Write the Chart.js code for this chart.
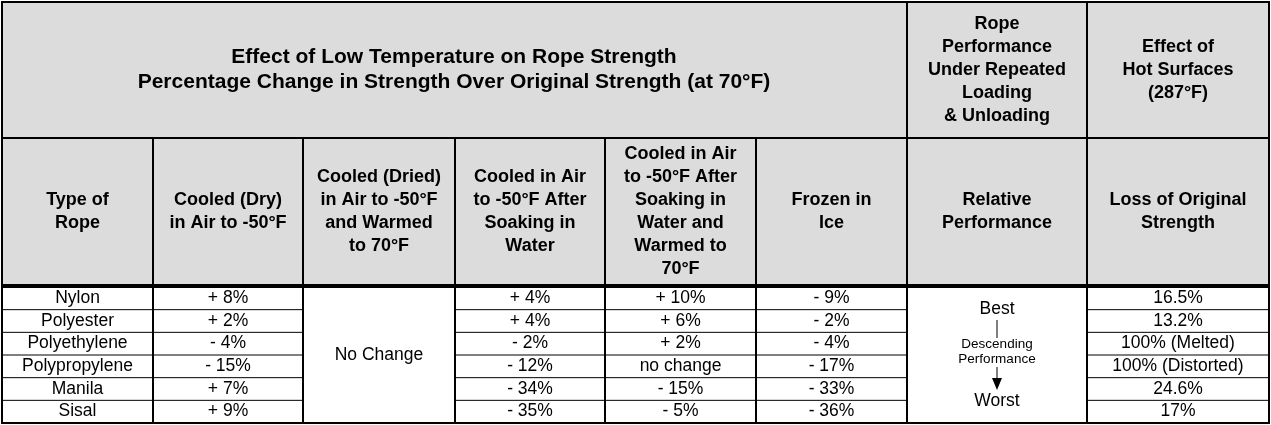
<!DOCTYPE html>
<html><head><meta charset="utf-8">
<script src="https://cdn.jsdelivr.net/npm/chart.js@4"></script>
<style>html,body{margin:0;padding:0;background:#fff}canvas{display:block}</style>
</head><body>
<canvas id="c" width="1271" height="425"></canvas>
<script>
const ropes = ["Nylon","Polyester","Polyethylene","Polypropylene","Manila","Sisal"];
const cooledDry = ["+ 8%","+ 2%","- 4%","- 15%","+ 7%","+ 9%"];
const cooledDriedWarmed = "No Change";
const cooledSoaked = ["+ 4%","+ 4%","- 2%","- 12%","- 34%","- 35%"];
const cooledSoakedWarmed = ["+ 10%","+ 6%","+ 2%","no change","- 15%","- 5%"];
const frozenInIce = ["- 9%","- 2%","- 4%","- 17%","- 33%","- 36%"];
const hotSurfaceLoss = ["16.5%","13.2%","100% (Melted)","100% (Distorted)","24.6%","17%"];
const titleLines = ["Effect of Low Temperature on Rope Strength","Percentage Change in Strength Over Original Strength (at 70°F)"];
const perfTitle = ["Rope","Performance","Under Repeated","Loading","& Unloading"];
const hotTitle = ["Effect of","Hot Surfaces","(287°F)"];
const colHeaders = [
  ["Type of","Rope"],
  ["Cooled (Dry)","in Air to -50°F"],
  ["Cooled (Dried)","in Air to -50°F","and Warmed","to 70°F"],
  ["Cooled in Air","to -50°F After","Soaking in","Water"],
  ["Cooled in Air","to -50°F After","Soaking in","Water and","Warmed to","70°F"],
  ["Frozen in","Ice"],
  ["Relative","Performance"],
  ["Loss of Original","Strength"]
];

const colX = [2,153,303,455,605,756,907,1087,1269];

const tablePlugin = {
  id:'table',
  afterDraw(chart){
    const ctx = chart.ctx, xs = chart.scales.x, ys = chart.scales.y;
    const X = v=>xs.getPixelForValue(v), Y = v=>ys.getPixelForValue(v);
    const dataTop = 287, dataBot = 423, rh = (dataBot-dataTop)/6;
    ctx.save();
    ctx.fillStyle='#dcdcdc';
    ctx.fillRect(X(2),Y(2),X(1269)-X(2),Y(285)-Y(2));
    ctx.fillStyle='#000';
    ctx.textAlign='center'; ctx.textBaseline='middle';
    const lines=(arr,cx,cy,lh,font)=>{ctx.font=font;arr.forEach((t,i)=>ctx.fillText(t,X(cx),Y(cy+(i-(arr.length-1)/2)*lh)));};
    const F='"Liberation Sans", Arial, sans-serif';
    const bold='bold 18px '+F;
    const norm='17.5px '+F;
    lines(titleLines,454,70,25,'bold 21px '+F);
    lines(perfTitle,997,70,23,bold);
    lines(hotTitle,1178,70,23,bold);
    colHeaders.forEach((h,i)=>lines(h,(colX[i]+colX[i+1])/2,212,23,bold));
    const cols=[ropes,cooledDry,null,cooledSoaked,cooledSoakedWarmed,frozenInIce,null,hotSurfaceLoss];
    cols.forEach((c,i)=>{ if(!c) return; c.forEach((v,r)=>lines([v],(colX[i]+colX[i+1])/2,dataTop+rh*(r+0.5),0,norm));});
    lines([cooledDriedWarmed],379,355,0,norm);
    lines(["Best"],997,309,0,norm);
    lines(["Worst"],997,401,0,norm);
    lines(["Descending","Performance"],997,352,15,'13.5px '+F);
    ctx.lineWidth=1; ctx.strokeStyle='#000';
    ctx.beginPath();ctx.moveTo(X(997),Y(320));ctx.lineTo(X(997),Y(338));ctx.moveTo(X(997),Y(367));ctx.lineTo(X(997),Y(380));ctx.stroke();
    ctx.beginPath();ctx.moveTo(X(992),Y(378));ctx.lineTo(X(1002),Y(378));ctx.lineTo(X(997),Y(390));ctx.closePath();ctx.fill();
    ctx.lineWidth=2;
    const L=(x1,y1,x2,y2)=>{ctx.beginPath();ctx.moveTo(X(x1),Y(y1));ctx.lineTo(X(x2),Y(y2));ctx.stroke();};
    ctx.strokeRect(X(2),Y(2),X(1269)-X(2),Y(423)-Y(2));
    L(2,138,1269,138); L(2,285,1269,285); L(2,287,1269,287);
    L(907,2,907,423); L(1087,2,1087,423);
    colX.slice(1,7).forEach(x=>L(x,138,x,423));
    ctx.lineWidth=1;
    for(let r=1;r<6;r++){const y=dataTop+rh*r;
      [[0,2],[3,6],[7,8]].forEach(([a,b])=>L(colX[a],y,colX[b],y));}
    ctx.restore();
  }
};
new Chart(document.getElementById('c'),{
  type:'scatter',
  data:{datasets:[{data:[]}]},
  options:{responsive:false,animation:false,devicePixelRatio:1,
    layout:{padding:0},
    plugins:{legend:{display:false},tooltip:{enabled:false}},
    scales:{x:{type:'linear',min:0,max:1271,display:false},
            y:{type:'linear',min:0,max:425,reverse:true,display:false}}},
  plugins:[tablePlugin]
});
</script>
</body></html>
